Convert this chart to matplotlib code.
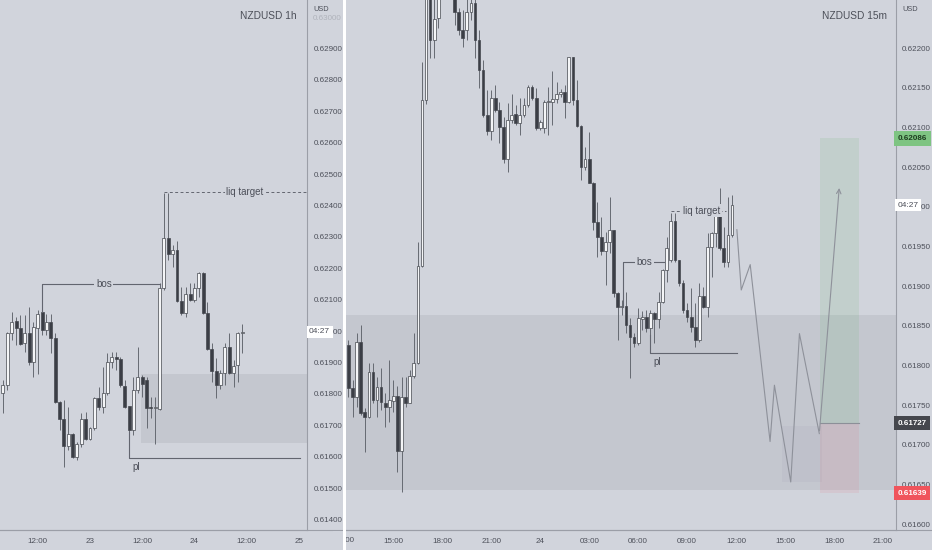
import pandas as pd
import matplotlib.pyplot as plt
import matplotlib.dates as mdates
from matplotlib.patches import Rectangle
from matplotlib.lines import Line2D

# colours
BG = "#d1d4dc"
ZONE = "#c4c7cf"
TXT = "#4c4f59"
AXLINE = "#9b9ea7"
BULL = "#f4f5f7"
BEAR = "#3b3e46"
EDGE = "#45484f"
WICK = "#666a72"
ANN = "#62656f"

plt.rcParams["font.family"] = ["Liberation Sans Narrow", "Liberation Sans", "DejaVu Sans"]

# ---- NZDUSD 1h candles (start 22nd 04:00) ----
h1_start = "2023-10-22 04:00"
h1_open = [0.61802, 0.61828, 0.61993, 0.62033, 0.62009, 0.61961, 0.61993, 0.61902, 0.62009, 0.62060,
           0.62005, 0.62030, 0.61977, 0.61775, 0.61719, 0.61634, 0.61672, 0.61600, 0.61642, 0.61719,
           0.61658, 0.61690, 0.61786, 0.61759, 0.61802, 0.61902, 0.61918, 0.61911, 0.61826, 0.61762,
           0.61685, 0.61812, 0.61855, 0.61844, 0.61759, 0.61756, 0.61751, 0.62136, 0.62295, 0.62247,
           0.62258, 0.62097, 0.62058, 0.62117, 0.62099, 0.62136, 0.62186, 0.62058, 0.61942, 0.61874,
           0.61828, 0.61867, 0.61950, 0.61867, 0.61892, 0.61993]
h1_high = [0.61844, 0.61998, 0.62062, 0.62046, 0.62051, 0.62051, 0.62078, 0.62030, 0.62067, 0.62067,
           0.62056, 0.62056, 0.61993, 0.61778, 0.61780, 0.61759, 0.61674, 0.61648, 0.61738, 0.61743,
           0.61695, 0.61791, 0.61823, 0.61887, 0.61931, 0.61934, 0.61934, 0.61918, 0.61844, 0.61762,
           0.61855, 0.61950, 0.61860, 0.61855, 0.61791, 0.61791, 0.62152, 0.62441, 0.62439, 0.62274,
           0.62287, 0.62141, 0.62141, 0.62152, 0.62152, 0.62189, 0.62189, 0.62094, 0.61961, 0.61913,
           0.61876, 0.61961, 0.61993, 0.61908, 0.61998, 0.62022]
h1_low = [0.61738, 0.61812, 0.61971, 0.61956, 0.61956, 0.61934, 0.61892, 0.61855, 0.61865, 0.61987,
          0.61987, 0.61929, 0.61770, 0.61685, 0.61568, 0.61621, 0.61595, 0.61589, 0.61632, 0.61653,
          0.61653, 0.61685, 0.61748, 0.61738, 0.61796, 0.61881, 0.61876, 0.61823, 0.61754, 0.61680,
          0.61669, 0.61802, 0.61791, 0.61690, 0.61722, 0.61642, 0.61748, 0.62131, 0.62228, 0.62205,
          0.62094, 0.62051, 0.62046, 0.62097, 0.62094, 0.62109, 0.62056, 0.61940, 0.61839, 0.61786,
          0.61817, 0.61828, 0.61865, 0.61823, 0.61839, 0.61929]
h1_close = [0.61828, 0.61993, 0.62030, 0.62009, 0.61959, 0.61993, 0.61902, 0.62014, 0.62056, 0.62003,
            0.62030, 0.61977, 0.61775, 0.61719, 0.61634, 0.61672, 0.61600, 0.61642, 0.61719, 0.61658,
            0.61690, 0.61786, 0.61759, 0.61802, 0.61902, 0.61918, 0.61911, 0.61828, 0.61759, 0.61685,
            0.61812, 0.61855, 0.61833, 0.61754, 0.61756, 0.61758, 0.62136, 0.62295, 0.62247, 0.62258,
            0.62097, 0.62058, 0.62117, 0.62099, 0.62136, 0.62186, 0.62058, 0.61942, 0.61874, 0.61828,
            0.61867, 0.61950, 0.61867, 0.61889, 0.61993, 0.61998]

# ---- NZDUSD 15m candles (start 23rd 12:15) ----
m15_start = "2023-10-23 12:15"
m15_open = [0.61826, 0.61772, 0.61760, 0.61830, 0.61741, 0.61735, 0.61792, 0.61756, 0.61773, 0.61753,
            0.61748, 0.61755, 0.61761, 0.61692, 0.61760, 0.61753, 0.61787, 0.61803, 0.61925, 0.62135,
            0.62280, 0.62210, 0.62238, 0.62275, 0.62295, 0.62280, 0.62262, 0.62245, 0.62223, 0.62223,
            0.62245, 0.62257, 0.62210, 0.62172, 0.62116, 0.62095, 0.62137, 0.62122, 0.62100, 0.62060,
            0.62109, 0.62117, 0.62106, 0.62116, 0.62128, 0.62151, 0.62137, 0.62099, 0.62099, 0.62132,
            0.62132, 0.62136, 0.62142, 0.62145, 0.62132, 0.62189, 0.62135, 0.62102, 0.62050, 0.62060,
            0.62030, 0.61981, 0.61962, 0.61944, 0.61956, 0.61971, 0.61891, 0.61874, 0.61875, 0.61851,
            0.61836, 0.61828, 0.61858, 0.61861, 0.61847, 0.61866, 0.61858, 0.61880, 0.61920, 0.61933,
            0.61982, 0.61933, 0.61904, 0.61870, 0.61861, 0.61848, 0.61832, 0.61887, 0.61874, 0.61949,
            0.61967, 0.61989, 0.61948, 0.61930, 0.61964]
m15_high = [0.61832, 0.61782, 0.61841, 0.61851, 0.61746, 0.61803, 0.61803, 0.61785, 0.61797, 0.61765,
            0.61807, 0.61782, 0.61774, 0.61785, 0.61785, 0.61794, 0.61841, 0.61956, 0.62182, 0.62300,
            0.62295, 0.62265, 0.62290, 0.62310, 0.62320, 0.62300, 0.62270, 0.62250, 0.62248, 0.62262,
            0.62268, 0.62266, 0.62223, 0.62185, 0.62147, 0.62147, 0.62153, 0.62132, 0.62113, 0.62131,
            0.62142, 0.62128, 0.62137, 0.62137, 0.62153, 0.62153, 0.62150, 0.62109, 0.62135, 0.62151,
            0.62171, 0.62157, 0.62148, 0.62153, 0.62189, 0.62189, 0.62160, 0.62103, 0.62075, 0.62094,
            0.62031, 0.62006, 0.61987, 0.61968, 0.62012, 0.61971, 0.61893, 0.61882, 0.61893, 0.61860,
            0.61841, 0.61872, 0.61868, 0.61870, 0.61870, 0.61867, 0.61892, 0.61921, 0.61962, 0.61992,
            0.61992, 0.61933, 0.61908, 0.61879, 0.61897, 0.61879, 0.61904, 0.61899, 0.61967, 0.61968,
            0.61992, 0.62023, 0.61974, 0.62012, 0.62015]
m15_low = [0.61760, 0.61735, 0.61747, 0.61737, 0.61691, 0.61734, 0.61753, 0.61735, 0.61744, 0.61722,
           0.61729, 0.61741, 0.61666, 0.61640, 0.61748, 0.61753, 0.61784, 0.61802, 0.61924, 0.62130,
           0.62187, 0.62187, 0.62225, 0.62262, 0.62270, 0.62262, 0.62229, 0.62216, 0.62201, 0.62210,
           0.62235, 0.62187, 0.62150, 0.62113, 0.62090, 0.62084, 0.62119, 0.62080, 0.62055, 0.62044,
           0.62106, 0.62103, 0.62090, 0.62113, 0.62126, 0.62134, 0.62097, 0.62097, 0.62093, 0.62090,
           0.62103, 0.62131, 0.62138, 0.62112, 0.62131, 0.62128, 0.62100, 0.62034, 0.62046, 0.62030,
           0.61971, 0.61937, 0.61939, 0.61901, 0.61942, 0.61886, 0.61832, 0.61864, 0.61841, 0.61784,
           0.61823, 0.61826, 0.61845, 0.61842, 0.61838, 0.61828, 0.61847, 0.61879, 0.61905, 0.61930,
           0.61930, 0.61900, 0.61866, 0.61855, 0.61842, 0.61823, 0.61829, 0.61872, 0.61861, 0.61911,
           0.61949, 0.61945, 0.61924, 0.61924, 0.61962]
m15_close = [0.61772, 0.61760, 0.61830, 0.61740, 0.61735, 0.61792, 0.61756, 0.61773, 0.61754, 0.61748,
             0.61756, 0.61761, 0.61692, 0.61760, 0.61753, 0.61787, 0.61803, 0.61925, 0.62135, 0.62285,
             0.62210, 0.62236, 0.62275, 0.62295, 0.62280, 0.62270, 0.62245, 0.62223, 0.62213, 0.62245,
             0.62257, 0.62210, 0.62172, 0.62116, 0.62095, 0.62137, 0.62122, 0.62100, 0.62060, 0.62109,
             0.62116, 0.62106, 0.62116, 0.62128, 0.62151, 0.62137, 0.62099, 0.62107, 0.62132, 0.62133,
             0.62136, 0.62142, 0.62145, 0.62132, 0.62189, 0.62135, 0.62102, 0.62050, 0.62060, 0.62030,
             0.61981, 0.61962, 0.61944, 0.61956, 0.61971, 0.61891, 0.61874, 0.61875, 0.61851, 0.61836,
             0.61828, 0.61860, 0.61861, 0.61847, 0.61866, 0.61858, 0.61880, 0.61920, 0.61948, 0.61982,
             0.61933, 0.61904, 0.61870, 0.61861, 0.61848, 0.61832, 0.61887, 0.61874, 0.61949, 0.61967,
             0.61989, 0.61948, 0.61930, 0.61964, 0.62002]

# axis ticks
h1_yticks = [0.614, 0.615, 0.616, 0.617, 0.618, 0.619, 0.620, 0.621,
             0.622, 0.623, 0.624, 0.625, 0.626, 0.627, 0.628, 0.629]
h1_xticks = ["2023-10-22 12:00", "2023-10-23 00:00", "2023-10-23 12:00",
             "2023-10-24 00:00", "2023-10-24 12:00", "2023-10-25 00:00"]
h1_xlabels = ["12:00", "23", "12:00", "24", "12:00", "25"]
m15_yticks = [0.6160, 0.6165, 0.6170, 0.6175, 0.6180, 0.6185, 0.6190,
              0.6195, 0.6200, 0.6205, 0.6210, 0.6215, 0.6220]
m15_xticks = ["2023-10-23 15:00", "2023-10-23 18:00", "2023-10-23 21:00", "2023-10-24 00:00",
              "2023-10-24 03:00", "2023-10-24 06:00", "2023-10-24 09:00", "2023-10-24 12:00",
              "2023-10-24 15:00", "2023-10-24 18:00", "2023-10-24 21:00"]
m15_xlabels = ["15:00", "18:00", "21:00", "24", "03:00", "06:00", "09:00", "12:00",
               "15:00", "18:00", "21:00"]

# annotation levels
zone_top, zone_bottom = 0.61863, 0.61643
h1_bos, h1_liq, h1_pl = 0.62150, 0.62442, 0.61595
m15_bos, m15_liq, m15_pl = 0.61930, 0.61995, 0.61816
entry, target, stop = 0.61727, 0.62086, 0.61639
proj_times = ["2023-10-24 12:03", "2023-10-24 12:19", "2023-10-24 12:52", "2023-10-24 14:05",
              "2023-10-24 14:21", "2023-10-24 15:21", "2023-10-24 15:53", "2023-10-24 17:06",
              "2023-10-24 18:20"]
proj_prices = [0.61971, 0.61895, 0.61927, 0.61704, 0.61775, 0.61653, 0.61840, 0.61714, 0.62027]


def T(s):
    return mdates.date2num(pd.Timestamp(s))


def draw_candles(ax, times, o, h, l, c, width, min_h):
    x = mdates.date2num(times)
    ax.vlines(x, l, h, color=WICK, lw=0.7, zorder=2)
    bottoms = [min(a, b) for a, b in zip(o, c)]
    heights = [max(abs(b - a), min_h) for a, b in zip(o, c)]
    colors = [BULL if b >= a else BEAR for a, b in zip(o, c)]
    ax.bar(x, heights, width=width, bottom=bottoms, color=colors,
           edgecolor=EDGE, linewidth=0.5, zorder=3)


def setup(ax, xlim, ylim, yticks, yfmt, xticks, xlabels):
    ax.set_facecolor(BG)
    ax.set_xlim(T(xlim[0]), T(xlim[1]))
    ax.set_ylim(*ylim)
    for s in ["top", "left"]:
        ax.spines[s].set_visible(False)
    ax.spines["right"].set_color(AXLINE)
    ax.spines["bottom"].set_color(AXLINE)
    ax.spines["right"].set_linewidth(0.8)
    ax.spines["bottom"].set_linewidth(0.8)
    ax.yaxis.tick_right()
    ax.set_yticks(yticks)
    ax.set_yticklabels([yfmt % v for v in yticks])
    ax.set_xticks([T(t) for t in xticks])
    ax.set_xticklabels(xlabels)
    ax.tick_params(axis="y", length=0, pad=4.5, labelsize=5.8, colors=TXT)
    ax.tick_params(axis="x", length=0, pad=5.5, labelsize=5.8, colors=TXT)


fig = plt.figure(figsize=(9.32, 5.5), dpi=100)
fig.patch.set_facecolor(BG)
W, H = 932.0, 550.0
ax1 = fig.add_axes([0, 20 / H, 307 / W, 530 / H])
ax2 = fig.add_axes([345.5 / W, 20 / H, (896 - 345.5) / W, 530 / H])

# ---------- left: 1h ----------
setup(ax1, ("2023-10-22 03:19", "2023-10-25 01:53"), (0.613666, 0.630545),
      h1_yticks, "%.5f", h1_xticks, h1_xlabels)
h1_times = pd.date_range(h1_start, periods=len(h1_open), freq="1h")
ax1.add_patch(Rectangle((T("2023-10-23 11:50"), zone_bottom),
                        T("2023-10-25 03:00") - T("2023-10-23 11:50"), zone_top - zone_bottom,
                        facecolor=ZONE, edgecolor="none", zorder=1))
draw_candles(ax1, h1_times, h1_open, h1_high, h1_low, h1_close, 0.68 / 24, 0.00003)

# bos
ax1.plot([T("2023-10-22 13:00")] * 2 + [T("2023-10-23 16:00")],
         [0.62061, h1_bos, h1_bos], color=ANN, lw=0.8, zorder=4)
ax1.text(T("2023-10-23 03:12"), h1_bos, "bos", ha="center", va="center", fontsize=7,
         color=TXT, zorder=5, bbox=dict(fc=BG, ec="none", pad=1.2))
# liq target
ax1.plot([T("2023-10-23 17:00"), T("2023-10-25 02:00")], [h1_liq, h1_liq], color=ANN,
         lw=0.7, ls=(0, (3, 2.5)), zorder=4)
ax1.text(T("2023-10-24 11:36"), h1_liq, "liq target", ha="center", va="center", fontsize=7,
         color=TXT, zorder=5, bbox=dict(fc=BG, ec="none", pad=1.2))
# pl
ax1.plot([T("2023-10-23 09:00")] * 2 + [T("2023-10-25 00:18")],
         [0.61680, h1_pl, h1_pl], color=ANN, lw=0.8, zorder=4)
ax1.text(T("2023-10-23 10:36"), 0.61568, "pl", ha="center", va="center", fontsize=7,
         color=TXT, zorder=5)

ax1.text(0.9665, 0.970, "NZDUSD 1h", transform=ax1.transAxes, ha="right", va="center",
         fontsize=7.3, color=TXT)
ax1.text(1.0 + 6 / 307, 0.62994, "0.63000", transform=ax1.get_yaxis_transform(), ha="left",
         va="center", fontsize=5.8, color=TXT, alpha=0.25, clip_on=False)
# countdown tag, sitting over the 0.62000 tick label
ax1.text(1.0 + 2 / 307, h1_close[-1], "04:27", transform=ax1.get_yaxis_transform(), ha="left",
         va="center", fontsize=6, color=TXT, clip_on=False, zorder=10,
         bbox=dict(boxstyle="square,pad=0.3", fc="white", ec="none"))

# ---------- right: 15m ----------
setup(ax2, ("2023-10-23 12:04", "2023-10-24 21:48"), (0.615925, 0.622605),
      m15_yticks, "%.5f", m15_xticks, m15_xlabels)
m15_times = pd.date_range(m15_start, periods=len(m15_open), freq="15min")
ax2.axhspan(zone_bottom, zone_top, facecolor=ZONE, edgecolor="none", zorder=1)
draw_candles(ax2, m15_times, m15_open, m15_high, m15_low, m15_close, 0.165 / 24, 0.000013)

# long position box
x0, x1 = T("2023-10-24 17:09"), T("2023-10-24 19:33")
ax2.add_patch(Rectangle((T("2023-10-24 14:48"), 0.61653), T("2023-10-24 17:15") - T("2023-10-24 14:48"),
                        0.61723 - 0.61653, facecolor="#9a8fa8", alpha=0.10, edgecolor="none", zorder=1.5))
ax2.add_patch(Rectangle((x0, entry), x1 - x0, target - entry, facecolor="#4caf50", alpha=0.11,
                        edgecolor="none", zorder=1.6))
ax2.add_patch(Rectangle((x0, stop), x1 - x0, entry - stop, facecolor="#f23645", alpha=0.08,
                        edgecolor="none", zorder=1.6))
ax2.plot([x0, x1], [entry, entry], color="#8c8f98", lw=0.8, zorder=2)

# projection path
px = [T(t) for t in proj_times]
ax2.plot(px[:-1], proj_prices[:-1], color="#8e919a", lw=0.8, zorder=4)
ax2.annotate("", xy=(px[-1], proj_prices[-1]), xytext=(px[-2], proj_prices[-2]),
             arrowprops=dict(arrowstyle="->", color="#8e919a", lw=0.8, mutation_scale=8), zorder=4)

# bos
ax2.plot([T("2023-10-24 05:04")] * 2 + [T("2023-10-24 07:36")],
         [0.61874, m15_bos, m15_bos], color=ANN, lw=0.8, zorder=4)
ax2.text(T("2023-10-24 06:24"), m15_bos, "bos", ha="center", va="center", fontsize=7,
         color=TXT, zorder=5, bbox=dict(fc=BG, ec="none", pad=1.2))
# liq target
ax2.plot([T("2023-10-24 08:00"), T("2023-10-24 11:24")], [m15_liq, m15_liq], color=ANN,
         lw=0.7, ls=(0, (3, 2.5)), zorder=4)
ax2.text(T("2023-10-24 09:54"), m15_liq, "liq target", ha="center", va="center", fontsize=7,
         color=TXT, zorder=5, bbox=dict(fc=BG, ec="none", pad=1.2))
# pl
ax2.plot([T("2023-10-24 06:45")] * 2 + [T("2023-10-24 12:04")],
         [0.61838, m15_pl, m15_pl], color=ANN, lw=0.8, zorder=4)
ax2.text(T("2023-10-24 07:11"), 0.61804, "pl", ha="center", va="center", fontsize=7,
         color=TXT, zorder=5)

ax2.text(0.983, 0.970, "NZDUSD 15m", transform=ax2.transAxes, ha="right", va="center",
         fontsize=7.3, color=TXT)
ax2.text(T("2023-10-23 12:00"), -10 / 530, "12:00", transform=ax2.get_xaxis_transform(),
         ha="center", va="center", fontsize=5.8, color=TXT, clip_on=False)

# price tags on the 15m axis
off = 1.0 + 1.5 / 550.5
for price, text, fc, tc in [(target, "0.62086", "#7ec482", "#1e3d20"),
                            (entry, "0.61727", "#45474d", "white"),
                            (stop, "0.61639", "#f0545c", "white")]:
    ax2.text(off, price, text, transform=ax2.get_yaxis_transform(), ha="left", va="center",
             fontsize=5.8, color=tc, fontweight="bold", clip_on=False, zorder=10,
             bbox=dict(boxstyle="square,pad=0.45", fc=fc, ec="none"))
ax2.text(off, m15_close[-1], "04:27", transform=ax2.get_yaxis_transform(), ha="left",
         va="center", fontsize=6, color=TXT, clip_on=False, zorder=10,
         bbox=dict(boxstyle="square,pad=0.3", fc="white", ec="none"))

# currency labels
fig.text(313 / W, 1 - 9.7 / H, "USD", ha="left", va="center", fontsize=5.3, color=TXT)
fig.text(902.5 / W, 1 - 9.7 / H, "USD", ha="left", va="center", fontsize=5.3, color=TXT)

# time axis line, cover and panel separator
fig.add_artist(Line2D([0, 1], [20 / H, 20 / H], color=AXLINE, lw=0.8))
fig.add_artist(Rectangle((333 / W, 0), 10.3 / W, 19.5 / H, facecolor=BG, edgecolor="none",
                         transform=fig.transFigure, zorder=20))
fig.add_artist(Rectangle((343.3 / W, 0), 2.4 / W, 1, facecolor="white", edgecolor="none",
                         transform=fig.transFigure, zorder=21))

fig.savefig("out.png", dpi=100, facecolor=BG)
